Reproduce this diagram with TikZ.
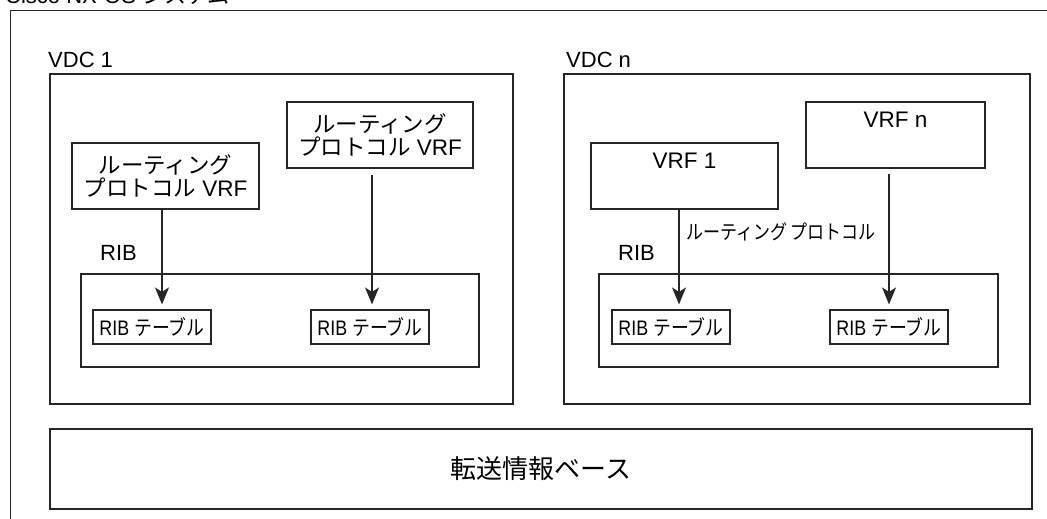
\documentclass[tikz,border=0pt]{standalone}
\usepackage{fontspec}
\setmainfont{Liberation Sans}
\newfontfamily\cjk{Noto Sans CJK JP}
\newfontfamily\cjkn[FakeStretch=0.85]{Noto Sans CJK JP}
\newfontfamily\latn[FakeStretch=0.85]{Liberation Sans}
\usetikzlibrary{arrows.meta}
\begin{document}
\begin{tikzpicture}[x=1pt,y=-1pt,
  frame/.style={draw=black!85,line width=1.2pt,inner sep=0pt},
  vrfbox/.style={frame,align=center,font=\fontsize{22.5}{23}\selectfont,minimum height=66pt},
  tabbox/.style={frame,line width=1.1pt,minimum width=118pt,minimum height=34pt,font=\fontsize{21}{21}\selectfont\latn},
  lbl/.style={inner sep=0pt,anchor=base west,font=\fontsize{22}{24}\selectfont},
  arr/.style={draw=black!85,line width=1.2pt,-{Stealth[length=17pt,width=14pt,inset=4.5pt]}}]
\useasboundingbox (0,0) rectangle (1047,519);
\clip (0,0) rectangle (1047,519);
% outer system box
\node[frame,minimum width=1100pt,minimum height=560pt,anchor=north west] (sys) at (10,10) {};
\node[lbl] (title) at (5,4) {Cisco NX-OS {\cjk システム}};
% VDC boxes
\node[frame,minimum width=463pt,minimum height=330pt] (vdcA) at (281.5,239) {};
\node[frame,minimum width=466pt,minimum height=330pt] (vdcB) at (797,239) {};
\node[lbl] (vdcAl) at (48,68) {VDC 1};
\node[lbl] (vdcBl) at (566,68) {VDC n};
% RIB boxes
\node[frame,minimum width=398pt,minimum height=93pt] (ribA) at (280,320.5) {};
\node[frame,minimum width=399pt,minimum height=93pt] (ribB) at (798.5,320.5) {};
\node[lbl] (ribAl) at (100,260) {RIB};
\node[lbl] (ribBl) at (618,260) {RIB};
% VRF boxes
\node[vrfbox,minimum width=187pt] (vrfA) at (165.5,176) {{\cjk ルーティング}\\{\cjk プロトコル} VRF};
\node[vrfbox,minimum width=186pt] (vrfB) at (380,135) {{\cjk ルーティング}\\{\cjk プロトコル} VRF};
\node[vrfbox,minimum width=187pt] (vrfC) at (684.5,176) {VRF 1\\[0pt]\strut};
\node[vrfbox,minimum width=179pt] (vrfD) at (895.5,135) {VRF n\\[0pt]\strut};
% RIB tables
\node[tabbox] (tabA) at (152,327) {RIB {\cjkn テーブル}};
\node[tabbox] (tabB) at (370,327) {RIB {\cjkn テーブル}};
\node[tabbox] (tabC) at (671,327) {RIB {\cjkn テーブル}};
\node[tabbox] (tabD) at (889,327) {RIB {\cjkn テーブル}};
% arrows
\draw[arr,shorten >=5pt] ([xshift=-3.5pt]vrfA.south) -- ([xshift=-3.5pt]vrfA.south |- tabA.north);
\draw[arr,shorten >=5pt,shorten <=6pt] ([xshift=-8pt]vrfB.south) -- ([xshift=-8pt]vrfB.south |- tabB.north);
\draw[arr,shorten >=5pt] ([xshift=-5.5pt]vrfC.south) -- ([xshift=-5.5pt]vrfC.south |- tabC.north);
\draw[arr,shorten >=5pt,shorten <=5pt] ([xshift=-6.5pt]vrfD.south) -- ([xshift=-6.5pt]vrfD.south |- tabD.north);
\node[inner sep=0pt,anchor=west,font=\fontsize{20}{20}\selectfont\cjkn] (rp) at (686,232) {ルーティング プロトコル};
% forwarding base
\node[frame,minimum width=982pt,minimum height=80pt,font=\fontsize{26}{26}\selectfont\cjk] (fib) at (541,469) {転送情報ベース};
\end{tikzpicture}
\end{document}
